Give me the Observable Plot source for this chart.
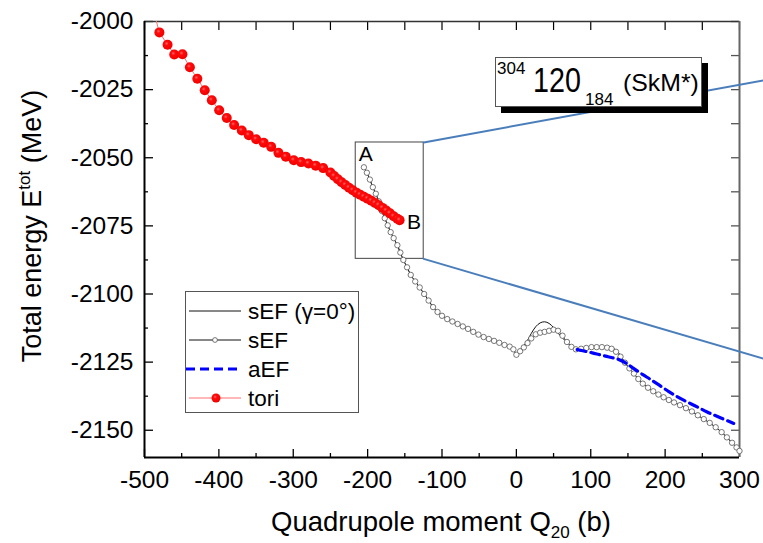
<!DOCTYPE html>
<html><head><meta charset="utf-8">
<script src="https://cdn.jsdelivr.net/npm/d3@7"></script>
<script src="https://cdn.jsdelivr.net/npm/@observablehq/plot@0.6"></script>
<style>
body{margin:0;background:#fff;font-family:"Liberation Sans",Arial,sans-serif;}
#wrap{position:relative;width:763px;height:543px;overflow:hidden;background:#fff}
#wrap svg{display:block}
.ov{position:absolute}
</style></head><body><div id="wrap"></div>
<script>
// ---- data ----
const xMajor = [-500,-400,-300,-200,-100,0,100,200,300];
const xMinor = [-450,-350,-250,-150,-50,50,150,250];
const yMajor = [-2150,-2125,-2100,-2075,-2050,-2025,-2000];
const yMinor = [-2137.5,-2112.5,-2087.5,-2062.5,-2037.5,-2012.5];

const toriQ = [-488,-480,-469,-460,-449,-439,-429,-419,-409.5,-399.6,-389.4,-379.5,-369.2,-359.8,-349.9,-339.7,-329.7,-319.9,-310,-299.3,-289.4,-279.6,-269.8,-259.8,
  -250,-245,-240,-235,-230,-225,-220,-215,-210,-205,-200,-195,-190,-185,-180,-175,-170,-165,-160,-157];
const toriE = [-1996,-2004.0,-2008.5,-2012.1,-2012.0,-2016.8,-2021.0,-2025.2,-2028.9,-2032.6,-2035.4,-2038.0,-2040.0,-2041.7,-2043.2,-2044.5,-2046.0,-2048.2,-2049.6,-2050.9,-2051.6,-2052.1,-2052.9,-2053.8,
  -2055.4,-2056.7,-2057.9,-2059.0,-2060.0,-2061.0,-2061.9,-2062.8,-2063.6,-2064.3,-2065.0,-2065.8,-2066.6,-2067.4,-2068.4,-2069.4,-2070.4,-2071.5,-2072.4,-2072.9];

const sEFQ = [-205,-201,-197,-193,-189,-185,-181,-177,-173,-169,-165,-160,-156,-152,-147,-142,-136,-130,-124,-118,-112,-106,-100,-93,-86,-79,-72,-65,-58,-51,-44,-37,-30,-23,-16,-9,-4,0,5,10,15,20,26,32,38,44,50,56,62,68,74,80,87,94,101,108,115,122,128,134,140,146,152,158,164,170,177,184,191,198,205,212,220,228,236,244,252,260,268,276,283,290,296,300];
const sEFE = [-2053.5,-2055.5,-2058.0,-2060.8,-2063.2,-2066.0,-2069.5,-2072.2,-2074.8,-2077.3,-2079.5,-2082.1,-2084.8,-2087.5,-2090.2,-2093.0,-2095.4,-2097.6,-2100.0,-2102.4,-2104.8,-2106.6,-2108.0,-2109.2,-2110.1,-2111.0,-2111.9,-2112.8,-2113.9,-2114.9,-2115.8,-2116.5,-2117.2,-2117.9,-2118.7,-2119.3,-2120.3,-2122.3,-2121.0,-2119.6,-2118.0,-2116.3,-2114.8,-2114.2,-2113.9,-2113.5,-2113.1,-2113.5,-2115.3,-2117.6,-2119.4,-2120.3,-2120.1,-2119.8,-2119.5,-2119.5,-2119.5,-2119.7,-2120.1,-2121.2,-2123.0,-2125.2,-2127.3,-2129.2,-2131.2,-2132.9,-2134.4,-2135.7,-2136.9,-2137.9,-2138.9,-2139.8,-2140.8,-2141.9,-2143.1,-2144.5,-2145.9,-2147.3,-2148.9,-2150.7,-2152.6,-2154.6,-2156.3,-2157.6];

const gamma0Q = [-205,-201,-197,-193,-189,-185,-181,-177,-173,-169,-165,-160,-156,-152,-147,-142,-136,-130,-124,-118,-112,-106,-100,-93,-86,-79,-72,-65,-58,-51,-44,-37,-30,-23,-16,-9,-4,0,5,10,15,20,26,32,38,44,50,56,62,68,74,80,87,94,101,108,115,122,128,134,140,146,152,158,164,170,177,184,191,198,205,212,220,228,236,244,252,260,268,276,283,290,296,300];
const gamma0E = [-2053.5,-2055.5,-2058.0,-2060.8,-2063.2,-2066.0,-2069.5,-2072.2,-2074.8,-2077.3,-2079.5,-2082.1,-2084.8,-2087.5,-2090.2,-2093.0,-2095.4,-2097.6,-2100.0,-2102.4,-2104.8,-2106.6,-2108.0,-2109.2,-2110.1,-2111.0,-2111.9,-2112.8,-2113.9,-2114.9,-2115.8,-2116.5,-2117.2,-2117.9,-2118.7,-2119.3,-2120.3,-2122.3,-2120.8,-2119.0,-2117.0,-2114.5,-2112.0,-2110.6,-2110.2,-2110.8,-2112.3,-2114.3,-2116.2,-2117.6,-2119.4,-2120.3,-2120.1,-2119.8,-2119.5,-2119.5,-2119.5,-2119.4,-2119.6,-2120.6,-2122.5,-2125.2,-2127.3,-2129.2,-2131.2,-2132.9,-2134.4,-2135.7,-2136.9,-2137.9,-2138.9,-2139.8,-2140.8,-2141.9,-2143.1,-2144.5,-2145.9,-2147.3,-2148.9,-2150.7,-2152.6,-2154.6,-2156.3,-2157.6];

const aEFQ = [81.7,92,102,111,120,128,137.5,148,158,170,180,189,205,221,240,256.5,275,292.3];
const aEFE = [-2120.4,-2121.0,-2121.6,-2122.2,-2122.8,-2123.3,-2124.0,-2125.5,-2127.4,-2129.6,-2131.3,-2132.9,-2135.8,-2138.4,-2141.0,-2143.3,-2145.5,-2147.5];

// zoom-window annotation (data units)
const insetQ = [-216, -124.6];
const insetE = [-2087.1, -2044.4];
const zoomLineQ = [[-124.6, 332], [-124.6, 332]];
const zoomLineE = [[-2044.4, -2021.6], [-2087.1, -2123.7]];
const pointLabels = ["A", "B"];
const pointLabelQ = [-212, -147];
const pointLabelE = [-2048.8, -2073.6];

const legendLabels = ["sEF (\u03b3=0\u00b0)", "sEF", "aEF", "tori"];

// ---- build tables ----
const zip = (q, e) => q.map((v, i) => ({q: v, e: e[i]}));
const tori = zip(toriQ, toriE);
const sEF = zip(sEFQ, sEFE);
const gamma0 = zip(gamma0Q, gamma0E);
const aEF = zip(aEFQ, aEFE);
const zoomLines = zoomLineQ.flatMap((qs, k) => qs.map((q, i) => ({q, e: zoomLineE[k][i], k})));
const inset = [{x1: insetQ[0], x2: insetQ[1], y1: insetE[0], y2: insetE[1]}];
const labels = pointLabels.map((t, i) => ({t, q: pointLabelQ[i], e: pointLabelE[i]}));

const fmt = d => String(d);
const FF = "Liberation Sans, Arial, sans-serif";

const svg = Plot.plot({
  width: 763, height: 543,
  marginLeft: 144, marginRight: 24, marginTop: 21, marginBottom: 86,
  style: {fontFamily: FF, background: "white", overflow: "visible"},
  x: {domain: [-500, 300], label: null},
  y: {domain: [-2160, -2000], label: null},
  marks: [
    // ticks (inward)
    Plot.axisX({anchor: "bottom", ticks: xMajor, tickSize: -8, tickFormat: () => "", label: null, strokeWidth: 1.3}),
    Plot.axisX({anchor: "bottom", ticks: xMinor, tickSize: -4, tickFormat: () => "", label: null, strokeWidth: 1.3}),
    Plot.axisX({anchor: "top", ticks: xMajor, tickSize: -8, tickFormat: () => "", label: null, strokeWidth: 1.2}),
    Plot.axisX({anchor: "top", ticks: xMinor, tickSize: -8, tickFormat: () => "", label: null, strokeWidth: 1.2}),
    Plot.axisY({anchor: "left", ticks: yMajor, tickSize: -9, tickFormat: () => "", label: null, strokeWidth: 1.3}),
    Plot.axisY({anchor: "left", ticks: yMinor, tickSize: -4, tickFormat: () => "", label: null, strokeWidth: 1.3}),
    Plot.axisY({anchor: "right", ticks: yMajor, tickSize: -9, tickFormat: () => "", label: null, stroke: "#555", strokeWidth: 1.3}),
    Plot.axisY({anchor: "right", ticks: yMinor, tickSize: -9, tickFormat: () => "", label: null, stroke: "#555", strokeWidth: 1.3}),
    // tick labels
    Plot.text(xMajor, {x: d => d, frameAnchor: "bottom", lineAnchor: "top", dy: 13, text: fmt, fontSize: 24.5, fill: "black"}),
    Plot.text(yMajor, {y: d => d, frameAnchor: "left", textAnchor: "end", dx: -11, text: fmt, fontSize: 24.5, fill: "black"}),
    // frame
    Plot.ruleY([-2000], {stroke: "#333", strokeWidth: 1.5}),
    Plot.ruleX([300], {stroke: "#666", strokeWidth: 2}),
    // inset window + zoom lines
    Plot.rect(inset, {x1: "x1", x2: "x2", y1: "y1", y2: "y2", fill: "none", stroke: "#444", strokeWidth: 1}),
    Plot.line(zoomLines, {x: "q", y: "e", z: "k", stroke: "#4a7ebb", strokeWidth: 2}),
    // curves
    Plot.line(gamma0, {x: "q", y: "e", stroke: "#111", strokeWidth: 1, curve: "catmull-rom"}),
    Plot.line(sEF, {x: "q", y: "e", stroke: "#333", strokeWidth: 0.8}),
    Plot.dot(sEF, {x: "q", y: "e", r: 2.7, fill: "white", stroke: "#555", strokeWidth: 0.8}),
    Plot.line(aEF, {x: "q", y: "e", stroke: "#0000ff", strokeWidth: 3.2, strokeDasharray: "9,5", curve: "catmull-rom"}),
    Plot.line(tori, {x: "q", y: "e", stroke: "#ff7070", strokeWidth: 1, clip: true}),
    Plot.dot(tori, {x: "q", y: "e", r: 5, fill: "url(#sphere)", stroke: "none", clip: true}),
    Plot.text(labels, {x: "q", y: "e", text: "t", fontSize: 21, textAnchor: "start", fill: "black"}),
    // axis lines
    Plot.ruleX([-500], {stroke: "black", strokeWidth: 2}),
    Plot.ruleY([-2160], {stroke: "black", strokeWidth: 2})
  ]
});

// sphere gradient
const s = d3.select(svg);
const defs = s.insert("defs", ":first-child");
const gr = defs.append("radialGradient").attr("id", "sphere").attr("cx", "40%").attr("cy", "38%").attr("r", "65%");
gr.append("stop").attr("offset", "0%").attr("stop-color", "#ff6a6a");
gr.append("stop").attr("offset", "30%").attr("stop-color", "#ff0a0a");
gr.append("stop").attr("offset", "100%").attr("stop-color", "#f00000");

// axis titles
const xt = s.append("text").attr("x", 441).attr("y", 531).attr("text-anchor", "middle")
  .attr("font-size", 27.5).attr("font-family", FF).attr("fill", "black");
xt.append("tspan").text("Quadrupole moment Q");
xt.append("tspan").attr("font-size", 17).attr("dy", 7).text("20");
xt.append("tspan").attr("dy", -7).text(" (b)");

const yt = s.append("text").attr("transform", "translate(41,226) rotate(-90)").attr("text-anchor", "middle")
  .attr("font-size", 27).attr("font-family", FF).attr("fill", "black");
yt.append("tspan").text("Total energy E");
yt.append("tspan").attr("font-size", 17).attr("dy", -11).text("tot");
yt.append("tspan").attr("dy", 11).text(" (MeV)");

const wrap = document.getElementById("wrap");
wrap.appendChild(svg);

// legend
const leg = d3.select(wrap).append("div").attr("class", "ov")
  .style("left", "185px").style("top", "291px").style("width", "174px").style("height", "122px")
  .style("border", "1px solid #555").style("background", "white").style("box-sizing", "border-box");
const ls = leg.append("svg").attr("width", 172).attr("height", 120).style("position", "absolute").style("left", "0").style("top", "0");
const rowY = [19, 48, 77, 106];
ls.append("line").attr("x1", 3).attr("x2", 55).attr("y1", rowY[0]).attr("y2", rowY[0]).attr("stroke", "#111").attr("stroke-width", 1);
ls.append("line").attr("x1", 3).attr("x2", 55).attr("y1", rowY[1]).attr("y2", rowY[1]).attr("stroke", "#111").attr("stroke-width", 1);
ls.append("circle").attr("cx", 29).attr("cy", rowY[1]).attr("r", 2.4).attr("fill", "white").attr("stroke", "#555").attr("stroke-width", 0.8);
ls.append("line").attr("x1", 0).attr("x2", 55).attr("y1", rowY[2]).attr("y2", rowY[2]).attr("stroke", "#0000ff").attr("stroke-width", 3.2).attr("stroke-dasharray", "9,5");
ls.append("line").attr("x1", 3).attr("x2", 55).attr("y1", rowY[3]).attr("y2", rowY[3]).attr("stroke", "#ff7070").attr("stroke-width", 1);
ls.append("circle").attr("cx", 30).attr("cy", rowY[3]).attr("r", 4.5).attr("fill", "url(#sphere)");
legendLabels.forEach((t, i) => {
  ls.append("text").attr("x", 62).attr("y", rowY[i] + 8).attr("font-size", 22.5).attr("font-family", FF).attr("fill", "black").text(t);
});

// nucleus label box
const nb = d3.select(wrap).append("div").attr("class", "ov")
  .style("left", "495px").style("top", "57px").style("width", "207px").style("height", "50px")
  .style("border", "1px solid #555").style("background", "white").style("box-sizing", "border-box")
  .style("box-shadow", "6px 6px 0 #000");
const ns = nb.append("svg").attr("width", 205).attr("height", 48).style("position", "absolute").style("left", "0").style("top", "0").style("overflow", "visible");
ns.append("text").attr("x", 1).attr("y", 16).attr("font-size", 17).attr("font-family", FF).text("304");
ns.append("text").attr("transform", "translate(37,34) scale(0.82,1)").attr("font-size", 35).attr("font-family", FF).text("120");
ns.append("text").attr("x", 89).attr("y", 47).attr("font-size", 17).attr("font-family", FF).text("184");
ns.append("text").attr("transform", "translate(127,33) scale(1.08,1)").attr("font-size", 23).attr("font-family", FF).text("(SkM*)");
</script></body></html>
